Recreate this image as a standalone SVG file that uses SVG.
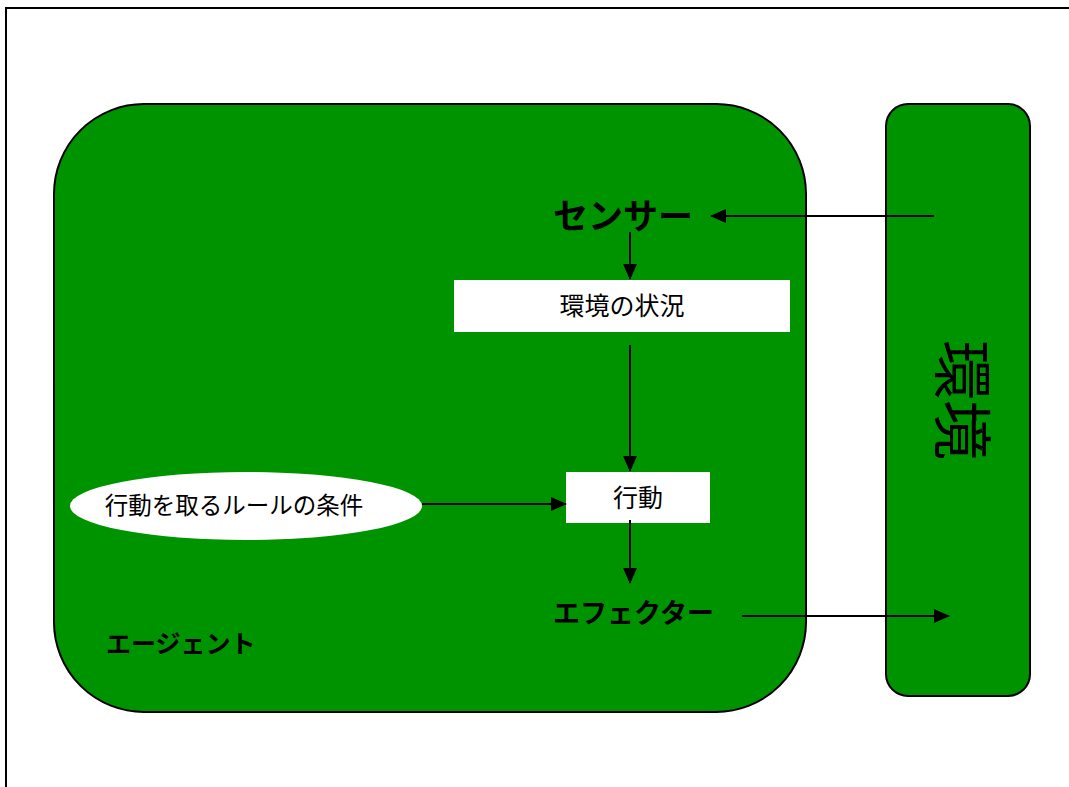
<svg xmlns="http://www.w3.org/2000/svg" width="1069" height="787" viewBox="0 0 1069 787">
<defs>
<style>
.jp{font-family:"Noto Sans CJK JP","Noto Sans CJK SC",sans-serif;fill:#000}
.b{font-weight:bold}
.green{fill:#009300;stroke:#000;stroke-width:2}
.box{fill:#fff;stroke:none}
.con line{stroke:#000;stroke-width:2}
</style>
<marker id="ah" markerWidth="16" markerHeight="14" refX="15" refY="7" orient="auto" markerUnits="userSpaceOnUse">
<path d="M0,0 L16,7 L0,14 Z" fill="#000"/>
</marker>
</defs>
<rect width="1069" height="787" fill="#fff"/>
<rect x="6" y="8" width="1080" height="800" fill="none" stroke="#000" stroke-width="2"/>
<g id="agent">
<rect class="green" x="54" y="104" width="752" height="608" rx="90" ry="90"/>
<text class="jp b" x="106" y="653" font-size="25">エージェント</text>
</g>
<g id="environment">
<rect class="green" x="886" y="104" width="144" height="592" rx="22" ry="22"/>
<text class="jp" transform="translate(966,400) rotate(90)" font-size="60" text-anchor="middle" dominant-baseline="central">環境</text>
</g>
<g id="sensor">
<text class="jp b" x="553" y="229" font-size="35">センサー</text>
</g>
<g id="state">
<rect class="box" x="454" y="280" width="336" height="52"/>
<text class="jp" x="622" y="315" font-size="25" text-anchor="middle">環境の状況</text>
</g>
<g id="action">
<rect class="box" x="566" y="472" width="144" height="51"/>
<text class="jp" x="638" y="507" font-size="25" text-anchor="middle">行動</text>
</g>
<g id="rule">
<ellipse cx="246" cy="506" rx="176" ry="34" fill="#fff"/>
<text class="jp" x="234" y="514" font-size="23.5" text-anchor="middle">行動を取るルールの条件</text>
</g>
<g id="effector">
<text class="jp b" x="553" y="623" font-size="27">エフェクター</text>
</g>
<g class="con" id="connectors">
<line x1="934" y1="216" x2="711" y2="216" marker-end="url(#ah)"/>
<line x1="630" y1="232" x2="630" y2="279" marker-end="url(#ah)"/>
<line x1="630" y1="345" x2="630" y2="471" marker-end="url(#ah)"/>
<line x1="422" y1="504" x2="566" y2="504" marker-end="url(#ah)"/>
<line x1="630" y1="520" x2="630" y2="583" marker-end="url(#ah)"/>
<line x1="742" y1="616" x2="949" y2="616" marker-end="url(#ah)"/>
</g>
</svg>
